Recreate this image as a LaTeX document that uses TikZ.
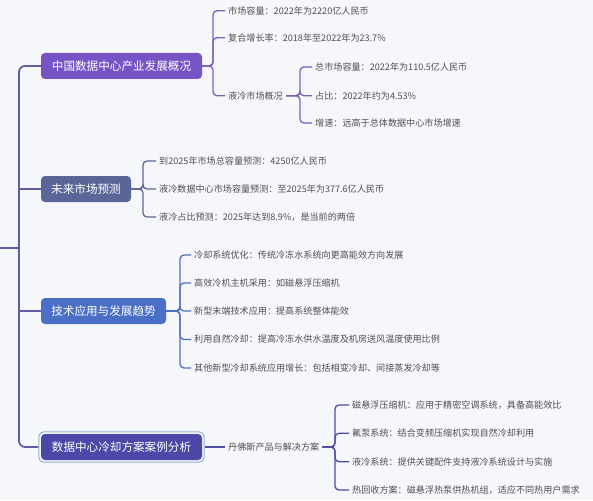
\documentclass[tikz,border=0pt]{standalone}
\usepackage{fontspec}
\newfontfamily\cjk{Noto Sans CJK SC}
\usetikzlibrary{fit}
\definecolor{bg}{HTML}{F6F7FB}
\definecolor{cA}{HTML}{7654C6}
\definecolor{cB}{HTML}{5A6698}
\definecolor{cC}{HTML}{4B6FC6}
\definecolor{cD}{HTML}{4B48A8}
\definecolor{lA}{HTML}{7C5FBE}
\definecolor{lB}{HTML}{5D6796}
\definecolor{lC}{HTML}{4F6FC2}
\definecolor{lD}{HTML}{4F4CA6}
\definecolor{spinec}{HTML}{5F5CA8}
\definecolor{ringc}{HTML}{9AAEDD}
\definecolor{leafc}{HTML}{505050}
\tikzset{
  branch/.style={rounded corners=4pt, text=white, font=\cjk\fontsize{11.6}{14}\selectfont,
    minimum height=26pt, inner xsep=0pt, inner ysep=0pt},
  leaf/.style={anchor=west, inner xsep=3pt, inner ysep=1pt, text=leafc,
    font=\cjk\fontsize{9.1}{11}\selectfont},
  spineline/.style={draw=spinec, line width=1.8pt, rounded corners=6pt},
  conn/.style={line width=1.3pt, rounded corners=4pt}
}
\begin{document}
\begin{tikzpicture}[x=1pt,y=-1pt]
\useasboundingbox[fill=bg] (0,0) rectangle (593,500);

% main branches
\node[branch, fill=cA, minimum width=161pt] (n1) at (121.5,66) {中国数据中心产业发展概况};
\node[branch, fill=cB, minimum width=90pt] (n2) at (86,189) {未来市场预测};
\node[branch, fill=cC, minimum width=125pt] (n3) at (103.5,311) {技术应用与发展趋势};
\node[branch, fill=cD, minimum width=161pt] (n4) at (121.5,447) {数据中心冷却方案案例分析};
\node[fit=(n4), inner sep=2pt, draw=ringc, line width=1pt, rounded corners=5pt] (n4ring) {};

% spine
\coordinate (root) at (0,248);
\coordinate (sp) at (19,0);
\draw[spineline] (n1.west) -| (sp|-root) |- (n4ring.west);
\draw[spineline] (root) -- (sp|-root);
\draw[spineline] (sp|-n2.west) -- (n2.west);
\draw[spineline] (sp|-n3.west) -- (n3.west);

% branch 1
\coordinate (b1) at (213,0);
\node[leaf] (l11) at (225,10.7) {市场容量：2022年为2220亿人民币};
\node[leaf] (l12) at (225,37.7) {复合增长率：2018年至2022年为23.7\%};
\node[leaf] (l13) at (225,95.7) {液冷市场概况};
\foreach \c in {l11,l12,l13}
  \draw[conn, draw=lA] (n1.east) -- (b1|-n1.east) |- (\c.west);
\coordinate (b13) at (300,0);
\node[leaf] (l131) at (312,67) {总市场容量：2022年为110.5亿人民币};
\node[leaf] (l132) at (312,95.7) {占比：2022年约为4.53\%};
\node[leaf] (l133) at (312,123) {增速：远高于总体数据中心市场增速};
\foreach \c in {l131,l132,l133}
  \draw[conn, draw=lA] (l13.east) -- (b13|-l13.east) |- (\c.west);

% branch 2
\coordinate (b2) at (143,0);
\node[leaf] (l21) at (156,161) {到2025年市场总容量预测：4250亿人民币};
\node[leaf] (l22) at (156,189) {液冷数据中心市场容量预测：至2025年为377.6亿人民币};
\node[leaf] (l23) at (156,217) {液冷占比预测：2025年达到8.9\%，是当前的两倍};
\foreach \c in {l21,l22,l23}
  \draw[conn, draw=lB] (n2.east) -- (b2|-n2.east) |- (\c.west);

% branch 3
\coordinate (b3) at (180,0);
\node[leaf] (l31) at (191,255) {冷却系统优化：传统冷冻水系统向更高能效方向发展};
\node[leaf] (l32) at (191,283) {高效冷机主机采用：如磁悬浮压缩机};
\node[leaf] (l33) at (191,311) {新型末端技术应用：提高系统整体能效};
\node[leaf] (l34) at (191,339.5) {利用自然冷却：提高冷冻水供水温度及机房送风温度使用比例};
\node[leaf] (l35) at (191,368) {其他新型冷却系统应用增长：包括相变冷却、间接蒸发冷却等};
\foreach \c in {l31,l32,l33,l34,l35}
  \draw[conn, draw=lC] (n3.east) -- (b3|-n3.east) |- (\c.west);

% branch 4
\node[leaf] (l4) at (225,447) {丹佛斯产品与解决方案};
\draw[conn, draw=lD] (n4ring.east) -- (l4.west);
\coordinate (b4) at (335,0);
\node[leaf] (l41) at (349,405) {磁悬浮压缩机：应用于精密空调系统，具备高能效比};
\node[leaf] (l42) at (349,433.3) {氟泵系统：结合变频压缩机实现自然冷却利用};
\node[leaf] (l43) at (349,461.7) {液冷系统：提供关键配件支持液冷系统设计与实施};
\node[leaf] (l44) at (349,490) {热回收方案：磁悬浮热泵供热机组，适应不同热用户需求};
\foreach \c in {l41,l42,l43,l44}
  \draw[conn, draw=lD] (l4.east) -- (b4|-l4.east) |- (\c.west);
\end{tikzpicture}
\end{document}
